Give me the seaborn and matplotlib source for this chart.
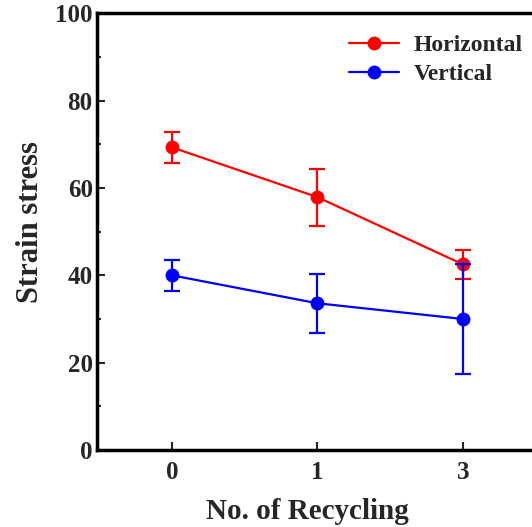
import numpy as np
import pandas as pd
import matplotlib
matplotlib.use("Agg")
import matplotlib.pyplot as plt
import seaborn as sns
from matplotlib.ticker import MultipleLocator

# values
cycles = ["0", "1", "3"]
horizontal = [69.3, 57.9, 42.5]
horizontal_err = [3.5, 6.5, 3.3]
vertical = [40.0, 33.6, 30.0]
vertical_err = [3.5, 6.8, 12.5]

sns.set_style("ticks")
plt.rcParams['font.family'] = ['Liberation Serif', 'DejaVu Serif']
plt.rcParams['font.weight'] = 'bold'

pos = np.arange(len(cycles))
df = pd.DataFrame({
    "pos": np.concatenate([pos, pos]),
    "value": horizontal + vertical,
    "series": ["Horizontal"] * 3 + ["Vertical"] * 3,
})

fig = plt.figure(figsize=(5.32, 5.27), dpi=100)
ax = fig.add_axes([0.182, 0.146, 0.829, 0.829])

palette = {"Horizontal": "#ff0000", "Vertical": "#0000ff"}
sns.lineplot(data=df, x="pos", y="value", hue="series", palette=palette,
             marker="o", markersize=10, markeredgewidth=0, linewidth=1.6, ax=ax)

ax.errorbar(pos, horizontal, yerr=horizontal_err, fmt="none", ecolor="#ff0000",
            elinewidth=1.6, capsize=6, capthick=1.6)
ax.errorbar(pos, vertical, yerr=vertical_err, fmt="none", ecolor="#0000ff",
            elinewidth=1.6, capsize=6, capthick=1.6)

ax.set_xlim(-0.515, 2.515)
ax.set_ylim(0, 100)
ax.set_xticks(pos)
ax.set_xticklabels(cycles)
ax.yaxis.set_major_locator(MultipleLocator(20))
ax.yaxis.set_minor_locator(MultipleLocator(10))
ax.tick_params(axis="both", which="both", direction="in", width=1.5, labelsize=18)
ax.tick_params(axis="both", which="major", length=6)
ax.tick_params(axis="y", which="major", pad=3)
ax.tick_params(axis="x", which="major", pad=8)
ax.tick_params(axis="y", which="minor", length=3)
for lbl in ax.get_xticklabels() + ax.get_yticklabels():
    lbl.set_fontweight("bold")

for side in ["left", "bottom", "top", "right"]:
    ax.spines[side].set_linewidth(2.5)
    ax.spines[side].set_color("black")

ax.set_xlabel("No. of Recycling", fontsize=21, fontweight="bold")
ax.set_ylabel("Strain stress", fontsize=22, fontweight="bold")
ax.xaxis.set_label_coords(0.478, -0.11)
ax.yaxis.set_label_coords(-0.118, 0.522)

leg = ax.legend(loc="upper left", bbox_to_anchor=(0.524, 1.0), frameon=False,
                fontsize=17, handlelength=2.1, handletextpad=0.64, labelspacing=0.33,
                title=None)
for t in leg.get_texts():
    t.set_fontweight("bold")

fig.savefig("out.png", dpi=100)
